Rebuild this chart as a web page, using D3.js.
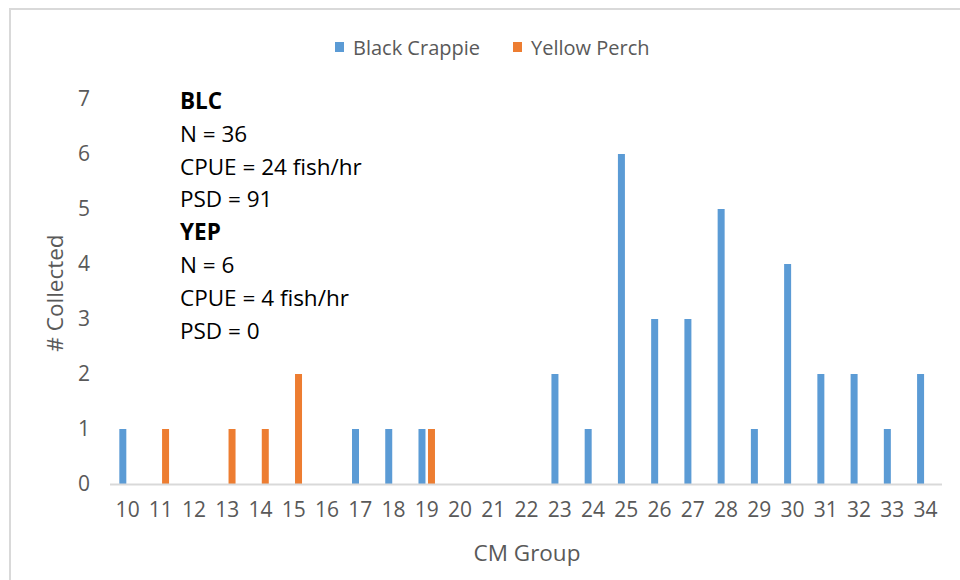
<!DOCTYPE html>
<html><head><meta charset="utf-8">
<script src="https://cdn.jsdelivr.net/npm/d3@7"></script>
<style>body{margin:0;background:#fff}svg{display:block}text{font-family:"Open Sans","Liberation Sans",Arial,sans-serif}</style>
</head><body>
<svg id="c" width="960" height="580"></svg>
<script>
const categories = ["10","11","12","13","14","15","16","17","18","19","20","21","22","23","24","25","26","27","28","29","30","31","32","33","34"];
const blackCrappie = [1,0,0,0,0,0,0,1,1,1,0,0,0,2,1,6,3,3,5,1,4,2,2,1,2];
const yellowPerch  = [0,1,0,1,1,2,0,0,0,1,0,0,0,0,0,0,0,0,0,0,0,0,0,0,0];
const seriesNames = ["Black Crappie","Yellow Perch"];
const seriesColors = ["#5B9BD5","#ED7D31"];
const yTicks = [0,1,2,3,4,5,6,7];
const annotations = [
  {t:"BLC", b:true},{t:"N = 36"},{t:"CPUE = 24 fish/hr"},{t:"PSD = 91"},
  {t:"YEP", b:true},{t:"N = 6"},{t:"CPUE = 4 fish/hr"},{t:"PSD = 0"}
];
const FONT = "Open Sans, Liberation Sans, Arial, sans-serif";

const svg = d3.select("#c");
svg.append("rect").attr("x",10).attr("y",9).attr("width",960).attr("height",600)
  .attr("fill","none").attr("stroke","#d9d9d9").attr("stroke-width",2);

const x = d3.scaleBand().domain(categories).range([111,942]).padding(0);
const y = d3.scaleLinear().domain([0,7]).range([484,99]);

const series = [blackCrappie, yellowPerch];
const barW = 7;
const offsets = [-8.3, 1.2];
series.forEach((vals,si)=>{
  svg.append("g").selectAll("rect").data(vals.map((v,i)=>({c:categories[i],v})).filter(d=>d.v>0))
    .join("rect")
    .attr("x",d=>x(d.c)+x.bandwidth()/2+offsets[si])
    .attr("width",barW)
    .attr("y",d=>y(d.v))
    .attr("height",d=>y(0)-y(d.v))
    .attr("fill",seriesColors[si]);
});

svg.append("line").attr("x1",110).attr("x2",942).attr("y1",484.5).attr("y2",484.5)
  .attr("stroke","#d9d9d9").attr("stroke-width",2);

const xAxis = svg.append("g").attr("transform","translate(0,484)")
  .call(d3.axisBottom(x).tickSize(0).tickPadding(18));
xAxis.select(".domain").remove();
xAxis.selectAll("text").attr("font-size",21).attr("fill","#595959").attr("font-family",FONT);

const yAxis = svg.append("g").attr("transform","translate(90,0)")
  .call(d3.axisLeft(y).tickValues(yTicks).tickSize(0).tickPadding(0).tickFormat(d3.format("d")));
yAxis.select(".domain").remove();
yAxis.selectAll("text").attr("font-size",21).attr("fill","#595959").attr("font-family",FONT);

svg.append("text").attr("x",527).attr("y",561).attr("text-anchor","middle")
  .attr("font-size",22.5).attr("fill","#595959").text("CM Group");
svg.append("text").attr("transform","translate(63,293) rotate(-90)").attr("text-anchor","middle")
  .attr("font-size",22.5).attr("fill","#595959").text("# Collected");

const legX = [335, 513];
seriesNames.forEach((n,i)=>{
  svg.append("rect").attr("x",legX[i]).attr("y",42).attr("width",9).attr("height",10).attr("fill",seriesColors[i]);
  svg.append("text").attr("x",legX[i]+18).attr("y",54.5).attr("font-size",20).attr("fill","#595959").text(n);
});

svg.append("g").selectAll("text").data(annotations).join("text")
  .attr("x",180).attr("y",(d,i)=>109+i*32.8)
  .attr("font-size",22.5).attr("fill","#000").attr("font-weight",d=>d.b?"bold":"normal")
  .text(d=>d.t);
</script>
</body></html>
